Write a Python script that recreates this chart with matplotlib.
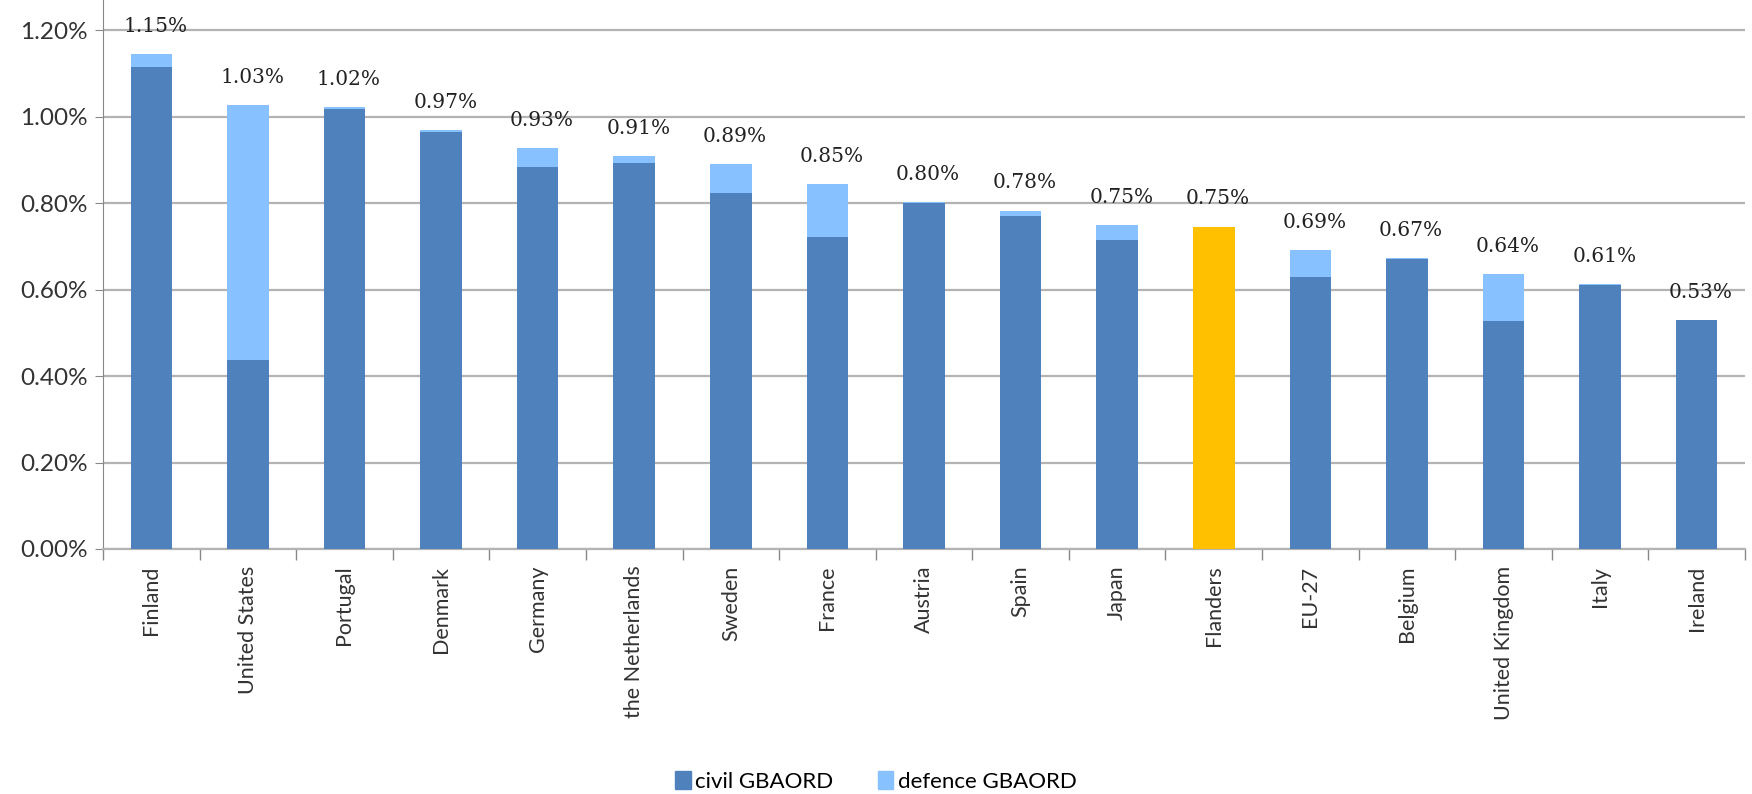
import numpy as np
import matplotlib.pyplot as plt
from matplotlib.patches import Patch
from matplotlib.ticker import FuncFormatter, FixedLocator

countries = ['Finland', 'United States', 'Portugal', 'Denmark', 'Germany',
             'the Netherlands', 'Sweden', 'France', 'Austria', 'Spain', 'Japan',
             'Flanders', 'EU-27', 'Belgium', 'United Kingdom', 'Italy', 'Ireland']
civil = [1.115, 0.437, 1.017, 0.965, 0.883, 0.893, 0.823, 0.722, 0.800, 0.771,
         0.714, 0.746, 0.630, 0.670, 0.528, 0.610, 0.530]
defence = [0.030, 0.590, 0.005, 0.005, 0.045, 0.015, 0.068, 0.123, 0.003, 0.012,
           0.036, 0.0, 0.062, 0.003, 0.107, 0.002, 0.0]
totals = ['1.15%', '1.03%', '1.02%', '0.97%', '0.93%', '0.91%', '0.89%', '0.85%',
          '0.80%', '0.78%', '0.75%', '0.75%', '0.69%', '0.67%', '0.64%', '0.61%', '0.53%']

blue = '#4F81BD'
light = '#87C1FF'
orange = '#FFC000'
grid = '#B3B3B3'

fig = plt.figure(figsize=(17.52, 7.94), dpi=100)
ax = fig.add_axes([0.0588, 0.3086, 0.9372, 0.6914])

x = np.arange(len(countries))
w = 0.43
colors = [orange if c == 'Flanders' else blue for c in countries]
ax.bar(x, civil, w, color=colors, zorder=3)
ax.bar(x, defence, w, bottom=civil, color=light, zorder=3)

# total labels above each bar
for i in range(len(countries)):
    top = civil[i] + defence[i]
    ax.annotate(totals[i], (x[i], top), xytext=(3, 13), textcoords='offset points',
                ha='center', va='bottom', fontsize=14.5, family='DejaVu Serif',
                color='#222222')

ax.set_xlim(-0.5, len(countries) - 0.5)
ax.set_ylim(0, 1.27)
ax.set_yticks(np.arange(0, 1.21, 0.2))
ax.yaxis.set_major_formatter(FuncFormatter(lambda v, p: f'{v:.2f}%'))
ax.yaxis.grid(True, color=grid, linewidth=1.6, zorder=0)

ax.set_xticks(x)
ax.set_xticklabels(countries, rotation=90, family='Lato', fontsize=15.5, color='#333333')
ax.xaxis.set_minor_locator(FixedLocator(np.arange(-0.5, len(countries), 1)))
ax.tick_params(axis='x', which='major', length=0, pad=12)
ax.tick_params(axis='x', which='minor', length=8, color='#888888', width=1)
ax.tick_params(axis='y', length=6, color='#888888', labelsize=17.5, labelcolor='#333333', pad=5)
for lab in ax.get_yticklabels():
    lab.set_family('Lato')

for s in ['top', 'right']:
    ax.spines[s].set_visible(False)
ax.spines['left'].set_color('#888888')
ax.spines['bottom'].set_color(grid)
ax.spines['bottom'].set_linewidth(1.6)

handles = [Patch(color=blue, label='civil GBAORD'), Patch(color=light, label='defence GBAORD')]
fig.legend(handles=handles, loc='center', bbox_to_anchor=(0.5, 0.016), ncol=2, frameon=False,
           prop={'family': 'Lato', 'size': 16}, handlelength=0.7, handleheight=0.9,
           handletextpad=0.2, columnspacing=2.0)

fig.savefig('out.png', dpi=100)
